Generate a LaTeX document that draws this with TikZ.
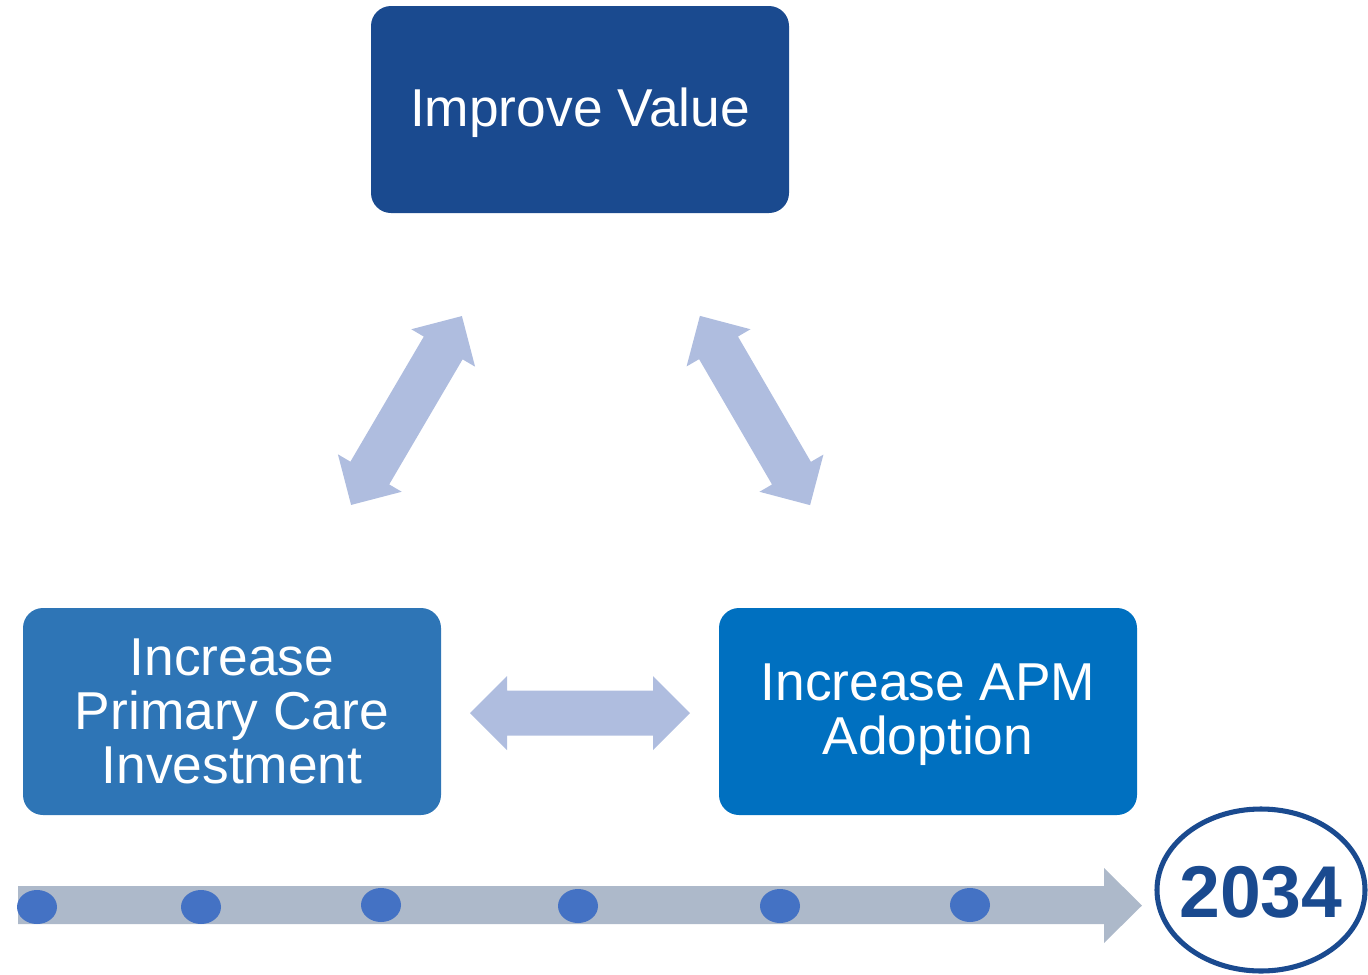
\documentclass[tikz,border=0pt]{standalone}
\usepackage{fontspec}
\setmainfont{Liberation Sans}
\usetikzlibrary{shapes.geometric}
\definecolor{valueblue}{HTML}{1A4A8F}
\definecolor{careblue}{HTML}{2E75B6}
\definecolor{apmblue}{HTML}{0070C0}
\definecolor{linkblue}{HTML}{AFBDDF}
\definecolor{timegray}{HTML}{ADB9CA}
\definecolor{dotblue}{HTML}{4472C4}
\tikzset{
  goalbox/.style={rectangle, rounded corners=15pt, inner sep=0pt,
    minimum width=313.5pt, minimum height=155.25pt},
  goaltext/.style={text=white, inner sep=0pt, align=center,
    font=\fontsize{40}{40.5}\selectfont},
  linkarrow/.style={fill=linkblue, draw=none},
  tick/.style={ellipse, fill=dotblue, inner sep=0pt,
    minimum width=30pt, minimum height=25.5pt},
}
\begin{document}
\begin{tikzpicture}[x=0.75pt,y=-0.75pt]
\useasboundingbox (0,0) rectangle (1368,975);

% goal boxes
\node[goalbox, fill=valueblue] (value) at (580,109.5) {};
\node[goaltext] (valuetext) at ([yshift=-2.25pt]value.center) {Improve Value};
\node[goalbox, fill=careblue] (care) at (232,711.5) {};
\node[goaltext] (caretext) at (care.center) {Increase\\Primary Care\\Investment};
\node[goalbox, fill=apmblue] (apm) at (928,711.5) {};
\node[goaltext] (apmtext) at ([yshift=-2.25pt]apm.center) {Increase APM\\Adoption};

% two-headed block arrow of length #1 along the local x axis
\newcommand{\twoway}[1]{%
  \fill[linkarrow] (-#1/2,0) -- (-#1/2+37,37) -- (-#1/2+37,22.5) -- (#1/2-37,22.5)
    -- (#1/2-37,37) -- (#1/2,0) -- (#1/2-37,-37) -- (#1/2-37,-22.5)
    -- (-#1/2+37,-22.5) -- (-#1/2+37,-37) -- cycle;}

\begin{scope}[shift={(406.5,410.5)}, rotate=59.6]
  \twoway{219}
\end{scope}
\begin{scope}[shift={(755,410.5)}, rotate=120.2]
  \twoway{219}
\end{scope}
\begin{scope}[shift={(580,713)}]
  \twoway{220}
\end{scope}

% timeline
\fill[timegray] (18,886) -- (1104,886) -- (1104,868) -- (1142,905.5)
  -- (1104,943) -- (1104,924) -- (18,924) -- cycle;
\foreach \x/\y [count=\i] in {37/907, 201/907, 381/905, 578/906, 780/906, 970/905}
  \node[tick] (t\i) at (\x,\y) {};

% target year
\node[ellipse, draw=valueblue, line width=3.8pt, inner sep=0pt,
  minimum width=156pt, minimum height=121.5pt] (year) at (1261,890) {};
\node[text=valueblue, font=\fontsize{55}{55}\bfseries] (yeartext)
  at ([yshift=-1.5pt]year.center) {2034};
\end{tikzpicture}
\end{document}
